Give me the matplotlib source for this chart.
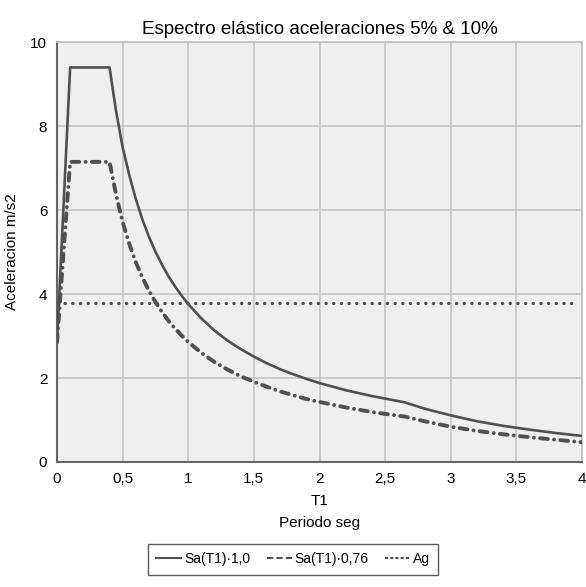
import matplotlib.pyplot as plt
from matplotlib.lines import Line2D

plt.rcParams['font.family'] = ['Liberation Sans', 'DejaVu Sans']

# periods (s) and spectral accelerations
periods = [0, 0.1, 0.4, 0.45, 0.5, 0.55, 0.6, 0.65, 0.7, 0.75, 0.8, 0.85, 0.9, 0.95, 1.0,
           1.1, 1.2, 1.3, 1.4, 1.5, 1.6, 1.7, 1.8, 1.9, 2.0, 2.2, 2.4, 2.65, 2.8, 3.0,
           3.2, 3.4, 3.6, 3.8, 4.0]
sa_full = [2.85, 9.4, 9.4, 8.36, 7.5, 6.84, 6.27, 5.78, 5.37, 5.01, 4.7, 4.42, 4.18, 3.96, 3.76,
           3.42, 3.13, 2.89, 2.69, 2.51, 2.35, 2.21, 2.09, 1.98, 1.88, 1.71, 1.57, 1.42, 1.27, 1.11,
           0.97, 0.86, 0.77, 0.69, 0.62]
sa_076 = [2.85, 7.15, 7.15, 6.37, 5.72, 5.2, 4.76, 4.4, 4.08, 3.81, 3.57, 3.36, 3.18, 3.01, 2.86,
          2.6, 2.38, 2.2, 2.04, 1.91, 1.79, 1.68, 1.59, 1.5, 1.43, 1.30, 1.19, 1.08, 0.97, 0.84,
          0.74, 0.66, 0.59, 0.53, 0.47]
ag_t = [0, 3.97]
ag = [3.78, 3.78]

xticks = [0, 0.5, 1, 1.5, 2, 2.5, 3, 3.5, 4]
xtick_labels = ['0', '0,5', '1', '1,5', '2', '2,5', '3', '3,5', '4']
yticks = [0, 2, 4, 6, 8, 10]

line_c = '#505050'

fig = plt.figure(figsize=(5.86, 5.87), dpi=100)
ax = fig.add_axes((0.0973, 0.213, 0.8959, 0.715))
ax.set_facecolor('#efefef')

ax.plot(periods, sa_full, color=line_c, lw=1.9, zorder=3)
ax.plot(periods, sa_076, color=line_c, lw=2.8, dashes=(2.0, 1.6, 0.01, 1.6),
        dash_capstyle='round', zorder=3)
ax.plot(ag_t, ag, color=line_c, lw=2.5, dashes=(0.01, 2.2), dash_capstyle='round', zorder=3)

ax.set_xlim(0, 4)
ax.set_ylim(0, 10)
ax.set_xticks(xticks, xtick_labels)
ax.set_yticks(yticks)
ax.tick_params(length=0, labelsize=11, pad=7)
ax.grid(color='#c6c6c6', lw=1.2)
ax.set_axisbelow(True)
for side in ['left', 'bottom']:
    ax.spines[side].set_color('#666666')
    ax.spines[side].set_linewidth(1.5)
for side in ['top', 'right']:
    ax.spines[side].set_color('#bdbdbd')
    ax.spines[side].set_linewidth(1.2)

ax.set_title('Espectro elástico aceleraciones 5% & 10%', fontsize=13.5, pad=6)
ax.set_xlabel('T1\nPeriodo seg', fontsize=11, linespacing=1.75, labelpad=6)
ax.set_ylabel('Aceleracion m/s2', fontsize=11, labelpad=8)

handles = [
    Line2D([], [], color=line_c, lw=1.5),
    Line2D([], [], color=line_c, lw=1.5, dashes=(3, 1.5)),
    Line2D([], [], color=line_c, lw=1.5, dashes=(1.5, 1)),
]
leg = fig.legend(handles, ['Sa(T1)·1,0', 'Sa(T1)·0,76', 'Ag'], loc='upper center',
                 bbox_to_anchor=(0.5, 1 - 537 / 587), ncol=3, frameon=True, fancybox=False,
                 fontsize=10, handlelength=1.8, handletextpad=0.2, columnspacing=1.2,
                 borderpad=0.6)
leg.get_frame().set_edgecolor('#333333')
leg.get_frame().set_linewidth(1.0)

fig.savefig('out.png', dpi=100)
